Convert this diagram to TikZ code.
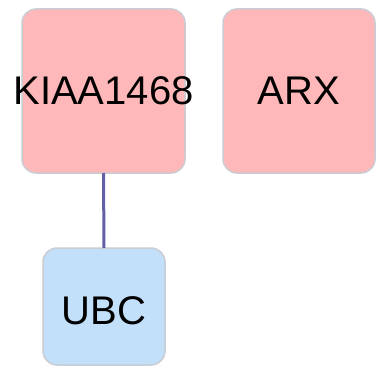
\documentclass[tikz,border=0pt]{standalone}
\usepackage{fontspec}
\setmainfont{Liberation Sans}
\definecolor{pinkfill}{HTML}{FFB8B9}
\definecolor{bluefill}{HTML}{C3E0FA}
\definecolor{boxborder}{HTML}{C9CCD3}
\definecolor{edgecol}{HTML}{6460A8}
\begin{document}
\begin{tikzpicture}[x=1pt,y=-1pt,
  gene/.style={draw=boxborder,line width=1.5pt,rounded corners=14pt,
    font=\fontsize{40}{40}\selectfont,inner sep=0pt,outer sep=0pt},
  link/.style={draw=edgecol,line width=3pt}]
\useasboundingbox (0,0) rectangle (377,369);
\node[gene,fill=pinkfill,minimum width=163pt,minimum height=164pt] (k) at (103.5,91) {\makebox[0pt]{KIAA1468}};
\node[gene,fill=pinkfill,minimum width=152pt,minimum height=164pt] (a) at (299,91) {ARX};
\node[gene,fill=bluefill,minimum width=122pt,minimum height=117pt,text height=36pt] (u) at (104,306.5) {UBC};
\draw[link] (k.south) -- (u.north);
\end{tikzpicture}
\end{document}
